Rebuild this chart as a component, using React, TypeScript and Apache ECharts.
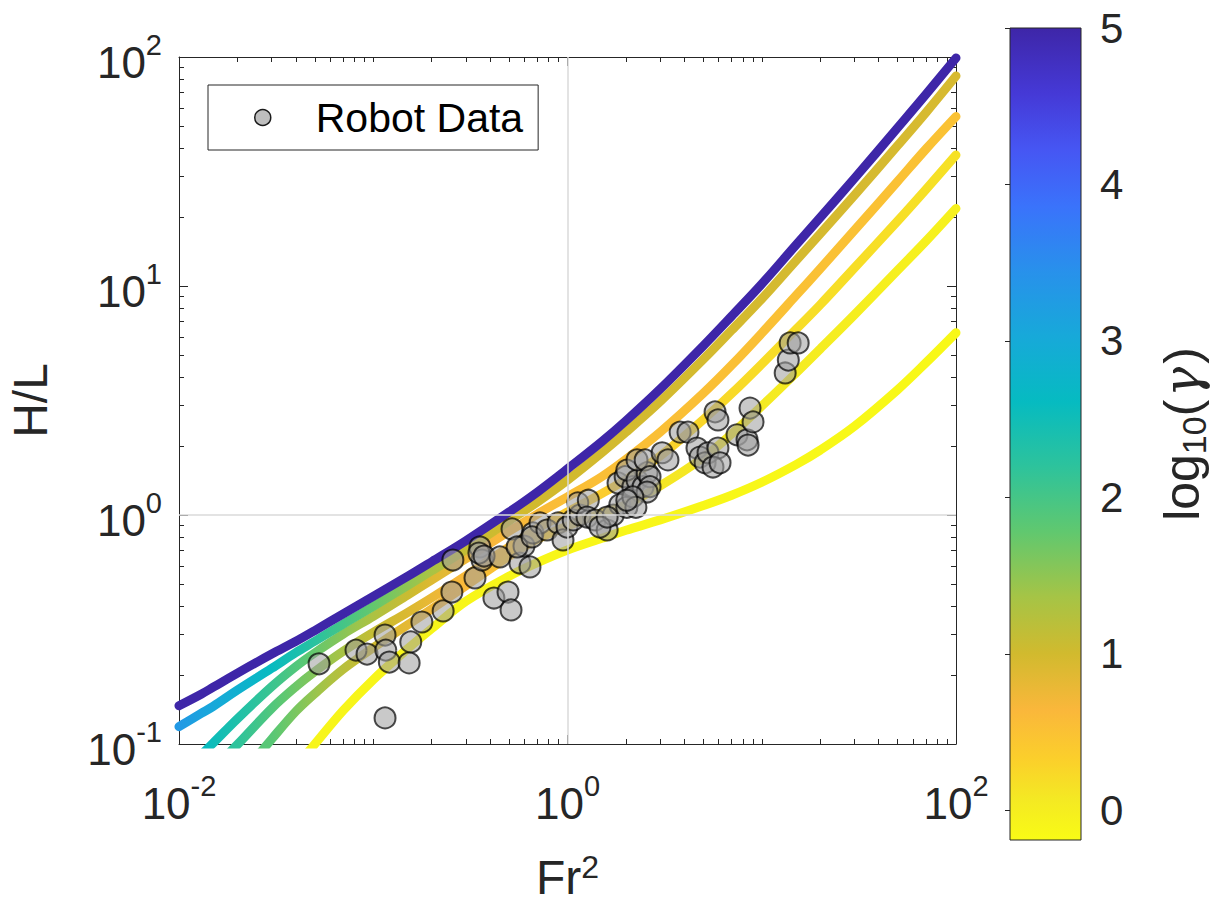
import React, { useEffect, useRef } from 'react';
import * as echarts from 'echarts';

const FONT = '"Liberation Sans", Arial, Helvetica, sans-serif';
const INK = '#262626';

// ---------- axis ranges / ticks ----------
const X_MIN = 0.01;
const X_MAX = 100;
const Y_MIN = 0.1;
const Y_MAX = 100;
const X_MAJOR = [0.01, 1, 100];
const Y_MAJOR = [0.1, 1, 10, 100];
const CB_MIN = -0.19;
const CB_MAX = 5;
const CB_TICKS = [0, 1, 2, 3, 4, 5];

// ---------- model curves: H/L sampled at Fr^2 ----------
const FR2 = [0.01, 0.013, 0.015, 0.02, 0.03, 0.04, 0.05, 0.07, 0.1, 0.15, 0.2, 0.3, 0.5, 0.7, 1, 1.5, 2, 3, 5, 7, 10, 15, 20, 30, 50, 70, 100];

const HL_CURVE_1 = [0.147, 0.165, 0.177, 0.204, 0.247, 0.281, 0.313, 0.37, 0.441, 0.539, 0.625, 0.772, 1.03, 1.26, 1.59, 2.09, 2.58, 3.55, 5.48, 7.39, 10.2, 15.1, 19.9, 29.5, 49.0, 68.6, 99];
const HL_CURVE_2 = [0.119, 0.136, 0.146, 0.172, 0.214, 0.251, 0.281, 0.334, 0.399, 0.492, 0.571, 0.706, 0.942, 1.14, 1.42, 1.87, 2.3, 3.13, 4.78, 6.41, 8.79, 12.9, 16.9, 24.9, 41.0, 57.2, 82.6];
const HL_CURVE_3 = [null, 0.0896, 0.101, 0.129, 0.178, 0.218, 0.25, 0.302, 0.361, 0.447, 0.521, 0.645, 0.849, 1.01, 1.2, 1.47, 1.75, 2.3, 3.4, 4.51, 6.22, 9.08, 11.9, 17.5, 28.6, 39.6, 55];
const HL_CURVE_4 = [null, null, 0.0779, 0.0995, 0.143, 0.178, 0.207, 0.254, 0.307, 0.375, 0.435, 0.543, 0.725, 0.872, 1.03, 1.24, 1.43, 1.81, 2.61, 3.39, 4.56, 6.46, 8.28, 12.0, 19.2, 26.4, 37.3];
const HL_CURVE_5 = [null, null, null, 0.0698, 0.105, 0.139, 0.166, 0.212, 0.263, 0.331, 0.389, 0.491, 0.66, 0.785, 0.895, 1.02, 1.11, 1.34, 1.78, 2.26, 2.99, 4.17, 5.31, 7.49, 11.7, 15.7, 21.8];
const HL_CURVE_6 = [null, null, null, null, null, 0.0797, 0.0998, 0.14, 0.191, 0.26, 0.319, 0.42, 0.54, 0.619, 0.703, 0.791, 0.858, 0.952, 1.1, 1.22, 1.39, 1.66, 1.92, 2.44, 3.52, 4.62, 6.25];

// colour value log10(gamma) along each curve: [Fr^2, value]
const GAMMA_CURVE_1 = [[0.01, 5], [100, 5]];
const GAMMA_CURVE_2 = [[0.01, 3.3], [0.03, 2.6], [0.07, 2.0], [0.15, 1.5], [0.3, 1.1], [0.5, 1.0], [100, 0.95]];
const GAMMA_CURVE_3 = [[0.0135, 2.6], [0.04, 1.9], [0.1, 1.3], [0.2, 0.9], [0.4, 0.65], [1, 0.55], [100, 0.5]];
const GAMMA_CURVE_4 = [[0.02, 2.2], [0.04, 1.7], [0.1, 1.1], [0.3, 0.6], [1, 0.4], [10, 0.2], [100, 0.15]];
const GAMMA_CURVE_5 = [[0.03, 1.85], [0.06, 1.3], [0.12, 0.9], [0.3, 0.6], [1, 0.3], [3, 0.1], [100, -0.05]];
const GAMMA_CURVE_6 = [[0.05, -0.1], [100, -0.15]];

// ---------- robot data ----------
const ROBOT_FR2 = [
  0.0526, 0.0815, 0.0929, 0.115, 0.116, 0.121, 0.153, 0.156, 0.178, 0.229,
  0.254, 0.257, 0.334, 0.115, 0.354, 0.363, 0.350, 0.372, 0.418, 0.494,
  0.512, 0.449, 0.518, 0.569, 0.641, 0.597, 0.664, 0.550, 0.722, 0.657,
  0.784, 0.894, 0.948, 0.994, 1.07, 1.16, 1.13, 1.28, 1.26, 1.39,
  1.60, 1.72, 1.86, 2.02, 1.82, 1.98, 2.17, 2.02, 2.28, 2.45,
  2.57, 2.28, 2.51, 2.66, 2.66, 2.57, 2.17, 3.07, 3.29, 3.80,
  4.17, 4.64, 4.81, 5.11, 5.29, 5.95, 5.61, 6.10, 5.75, 5.95,
  7.46, 8.40, 8.50, 8.70, 9.02, 13.2, 13.7, 14.0, 15.4, 1.47,
  1.60, 2.25, 2.02,
];
const ROBOT_HL = [
  0.224, 0.257, 0.247, 0.299, 0.257, 0.228, 0.226, 0.279, 0.341, 0.381,
  0.461, 0.636, 0.531, 0.130, 0.725, 0.636, 0.682, 0.662, 0.434, 0.461,
  0.385, 0.656, 0.869, 0.617, 0.593, 0.732, 0.835, 0.725, 0.923, 0.802,
  0.860, 0.923, 0.778, 0.886, 0.951, 1.0, 1.13, 1.16, 0.98, 0.951,
  0.86, 1.0, 1.11, 1.08, 1.38, 1.47, 1.33, 1.57, 1.42, 1.33,
  1.53, 1.74, 1.74, 1.47, 1.33, 1.26, 1.2, 1.87, 1.74, 2.3,
  2.3, 1.96, 1.79, 1.69, 1.87, 1.96, 1.62, 1.69, 2.82, 2.6,
  2.24, 2.13, 2.02, 2.93, 2.55, 4.17, 4.75, 5.64, 5.64, 0.886,
  0.98, 1.08, 1.16,
];

// ---------- layout ----------
const GRID = { left: 179, top: 57, width: 777, height: 687 };
const CB = { left: 1010, top: 28, width: 71, height: 812 };

// parula colormap
const PARULA: [number, string][] = [
  [0.0, '#3E26A8'], [0.08, '#4539D6'], [0.15, '#4656F3'], [0.22, '#3A73FB'],
  [0.3, '#2891EB'], [0.38, '#17A9D9'], [0.46, '#06BBC1'], [0.54, '#2DC39C'],
  [0.62, '#60C86F'], [0.7, '#A5C446'], [0.77, '#D1BA2E'], [0.84, '#FAB73B'],
  [0.9, '#FBCF2B'], [0.95, '#F4E923'], [1.0, '#F9FB15'],
];
function hexRgb(h: string) {
  return [parseInt(h.slice(1, 3), 16), parseInt(h.slice(3, 5), 16), parseInt(h.slice(5, 7), 16)];
}
function parula(t: number) {
  t = Math.max(0, Math.min(1, t));
  for (let i = 1; i < PARULA.length; i++) {
    if (t <= PARULA[i][0]) {
      const [t0, c0] = PARULA[i - 1];
      const [t1, c1] = PARULA[i];
      const f = (t - t0) / (t1 - t0);
      const a = hexRgb(c0), b = hexRgb(c1);
      const c = a.map((v, k) => Math.round(v + (b[k] - v) * f));
      return `rgb(${c[0]},${c[1]},${c[2]})`;
    }
  }
  return PARULA[PARULA.length - 1][1];
}
const gammaColor = (v: number) => parula((CB_MAX - v) / (CB_MAX - CB_MIN));

function curveGradient(stops: number[][]) {
  const lx0 = Math.log10(X_MIN), lx1 = Math.log10(X_MAX);
  const cs: { offset: number; color: string }[] = [];
  for (let i = 0; i < stops.length - 1; i++) {
    const a0 = Math.log10(stops[i][0]), a1 = Math.log10(stops[i + 1][0]);
    const v0 = stops[i][1], v1 = stops[i + 1][1];
    const n = 6;
    for (let k = 0; k <= n; k++) {
      if (i > 0 && k === 0) continue;
      const f = k / n;
      const lx = a0 + (a1 - a0) * f;
      const off = Math.max(0, Math.min(1, (lx - lx0) / (lx1 - lx0)));
      cs.push({ offset: off, color: gammaColor(v0 + (v1 - v0) * f) });
    }
  }
  return new echarts.graphic.LinearGradient(GRID.left, 0, GRID.left + GRID.width, 0, cs, true);
}

function decadeMinors(from: number, to: number) {
  const out: number[] = [];
  for (let e = from; e < to; e++) for (let m = 2; m <= 9; m++) out.push(+(m * Math.pow(10, e)).toPrecision(3));
  return out;
}
const X_MINOR = [...decadeMinors(-2, 2), 0.1, 10];
const Y_MINOR = decadeMinors(-1, 2);

const supLabel = (v: number) => `{b|10}{s|${Math.round(Math.log10(v))}}`;
const tickRich = {
  b: { fontSize: 44, fontFamily: FONT, color: INK, lineHeight: 54, padding: [8, 0, 0, 0], verticalAlign: 'bottom' },
  s: { fontSize: 29, fontFamily: FONT, color: INK, lineHeight: 29, verticalAlign: 'top' },
};
const nameSupRich = {
  b: { fontSize: 48, fontFamily: FONT, color: INK, lineHeight: 50, padding: [6, 0, 0, 0], verticalAlign: 'bottom' },
  s: { fontSize: 32, fontFamily: FONT, color: INK, lineHeight: 32, verticalAlign: 'top' },
};
const nameSubRich = {
  b: { fontSize: 50, fontFamily: FONT, color: INK, lineHeight: 54, padding: [0, 0, 12, 0], verticalAlign: 'top' },
  g: { fontSize: 50, fontFamily: '"DejaVu Serif", serif', fontStyle: 'italic', color: INK, lineHeight: 54, padding: [0, 3, 12, 3], verticalAlign: 'top' },
  sub: { fontSize: 34, fontFamily: FONT, color: INK, lineHeight: 34, verticalAlign: 'bottom' },
};

function logAxis(pos: string, min: number, max: number, ticks: number[], len: number, line: boolean, extra: any = {}) {
  return {
    type: 'log', logBase: 10, gridIndex: 0, min, max, position: pos, silent: true,
    axisLine: { show: line, onZero: false, lineStyle: { color: INK, width: 1 } },
    axisTick: { show: true, inside: true, length: len, customValues: ticks, lineStyle: { color: INK, width: 1 } },
    axisLabel: { show: false },
    splitLine: { show: false },
    minorTick: { show: false },
    axisPointer: { show: false },
    ...extra,
  };
}

function toPoints(ys: (number | null)[]) {
  const pts: number[][] = [];
  ys.forEach((y, i) => { if (y !== null) pts.push([FR2[i], y]); });
  return pts;
}

const CURVES = [
  { hl: HL_CURVE_6, g: GAMMA_CURVE_6 },
  { hl: HL_CURVE_5, g: GAMMA_CURVE_5 },
  { hl: HL_CURVE_4, g: GAMMA_CURVE_4 },
  { hl: HL_CURVE_3, g: GAMMA_CURVE_3 },
  { hl: HL_CURVE_2, g: GAMMA_CURVE_2 },
  { hl: HL_CURVE_1, g: GAMMA_CURVE_1 },
];

function buildOption() {
  const cbStops = PARULA.map(([t, c]) => ({ offset: t, color: c }));
  const lineSeries = CURVES.map((c, i) => ({
    type: 'line', name: `curve${i}`, xAxisIndex: 0, yAxisIndex: 0,
    data: toPoints(c.hl), showSymbol: false, smooth: 0.35, z: 2, silent: true,
    lineStyle: { width: 9, cap: 'round', join: 'round', color: curveGradient(c.g) },
    emphasis: { disabled: true },
  }));
  return {
    animation: false,
    backgroundColor: '#ffffff',
    grid: [
      { ...GRID, outerBoundsMode: 'none', containLabel: false },
      { ...CB, outerBoundsMode: 'none', containLabel: false, show: true, borderColor: INK, borderWidth: 1,
        backgroundColor: new echarts.graphic.LinearGradient(0, 0, 0, 1, cbStops) },
    ],
    legend: {
      data: ['Robot Data'], left: 208, top: 85, selectedMode: false,
      padding: [10, 15, 10, 46], itemWidth: 16, itemHeight: 16, icon: 'circle',
      borderColor: INK, borderWidth: 1, backgroundColor: '#ffffff',
      itemStyle: { color: '#BEBEBE', borderColor: '#1a1a1a', borderWidth: 1.5, opacity: 1 },
      textStyle: { fontSize: 41, fontFamily: FONT, color: '#000', lineHeight: 45, padding: [0, 0, 0, 40] },
    },
    xAxis: [
      logAxis('bottom', X_MIN, X_MAX, X_MAJOR, 9, true, {
        axisLabel: { show: true, customValues: X_MAJOR, formatter: supLabel, rich: tickRich, margin: 27 },
        name: '{b|Fr}{s|2}', nameLocation: 'middle', nameGap: 107, nameTextStyle: { rich: nameSupRich },
      }),
      logAxis('bottom', X_MIN, X_MAX, X_MINOR, 5, false),
      logAxis('top', X_MIN, X_MAX, X_MAJOR, 9, true),
      logAxis('top', X_MIN, X_MAX, X_MINOR, 5, false),
      { type: 'value', gridIndex: 1, show: false, min: 0, max: 1 },
    ],
    yAxis: [
      logAxis('left', Y_MIN, Y_MAX, Y_MAJOR, 9, true, {
        axisLabel: { show: true, customValues: Y_MAJOR, formatter: supLabel, rich: tickRich, margin: 17 },
        name: 'H/L', nameLocation: 'middle', nameGap: 121, nameRotate: 90,
        nameTextStyle: { fontSize: 48, fontFamily: FONT, color: INK, lineHeight: 56 },
      }),
      logAxis('left', Y_MIN, Y_MAX, Y_MINOR, 5, false),
      logAxis('right', Y_MIN, Y_MAX, Y_MAJOR, 9, true),
      logAxis('right', Y_MIN, Y_MAX, Y_MINOR, 5, false),
      {
        type: 'value', gridIndex: 1, min: CB_MIN, max: CB_MAX, position: 'right', silent: true,
        axisLine: { show: false },
        axisTick: { show: true, inside: true, length: 5, customValues: CB_TICKS, lineStyle: { color: INK } },
        axisLabel: { show: true, customValues: CB_TICKS, fontSize: 42, fontFamily: FONT, color: INK, margin: 19 },
        splitLine: { show: false },
        name: '{b|log}{sub|10}{b|(}{g|γ}{b|)}', nameLocation: 'middle', nameGap: 76, nameRotate: 90,
        nameTextStyle: { rich: nameSubRich },
      },
    ],
    series: [
      {
        type: 'line', name: 'ref', xAxisIndex: 0, yAxisIndex: 0, data: [], z: 1, silent: true,
        markLine: {
          silent: true, symbol: ['none', 'none'], label: { show: false }, animation: false,
          lineStyle: { color: '#DADADA', width: 1.5, type: 'solid' },
          data: [{ xAxis: 1 }, { yAxis: 1 }],
        },
      },
      ...lineSeries,
      {
        type: 'scatter', name: 'Robot Data', xAxisIndex: 0, yAxisIndex: 0, z: 3,
        data: ROBOT_FR2.map((x, i) => [x, ROBOT_HL[i]]),
        symbol: 'circle', symbolSize: 21,
        itemStyle: { color: 'rgba(158,158,158,0.7)', borderColor: 'rgba(0,0,0,0.88)', borderWidth: 2 },
        emphasis: { disabled: true },
      },
    ],
  };
}

export default function App() {
  const ref = useRef<HTMLDivElement>(null);
  useEffect(() => {
    if (!ref.current) return;
    const chart = echarts.init(ref.current, null, { renderer: 'svg' });
    chart.setOption(buildOption() as any);
    return () => chart.dispose();
  }, []);
  return (
    <div
      ref={ref}
      style={{ position: 'absolute', left: 0, top: 0, width: 1224, height: 909, background: '#ffffff' }}
    />
  );
}
